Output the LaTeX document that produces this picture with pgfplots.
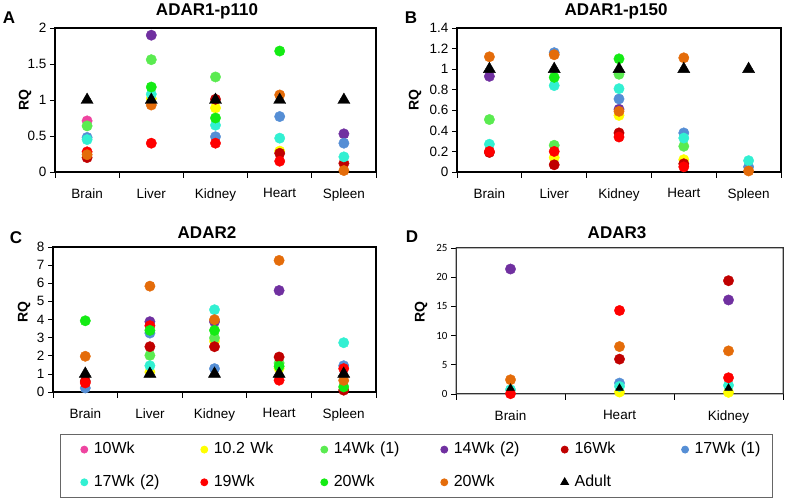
\documentclass[border=0pt]{standalone}
\usepackage{fontspec}
\setmainfont{Liberation Sans}
\newfontfamily\carlito{Carlito}
\usepackage{pgfplots}
\pgfplotsset{compat=1.18}

\definecolor{wk10}{RGB}{238,68,160}
\definecolor{wk102}{RGB}{255,255,0}
\definecolor{wk14a}{RGB}{90,235,80}
\definecolor{wk14b}{RGB}{112,48,160}
\definecolor{wk16}{RGB}{192,0,0}
\definecolor{wk17a}{RGB}{85,142,213}
\definecolor{wk17b}{RGB}{50,240,210}
\definecolor{wk19}{RGB}{255,0,0}
\definecolor{wk20g}{RGB}{20,235,20}
\definecolor{wk20o}{RGB}{228,108,10}

% frame drawn as a thin filled ring round the axis box
\newcommand{\ring}[2]{%
  \fill[#1, even odd rule]
    ([xshift=-#2,yshift=-#2]rel axis cs:0,0) rectangle ([xshift=#2,yshift=#2]rel axis cs:1,1)
    ([xshift=#2,yshift=#2]rel axis cs:0,0) rectangle ([xshift=-#2,yshift=-#2]rel axis cs:1,1);}

\pgfplotsset{
  panel/.style={
    scale only axis, clip=false, axis lines=box,
    tick align=outside, xtick pos=left, ytick pos=left,
    axis line style={black, line width=1.2bp},
    tick style={black, line width=0.7bp},
    major tick length=5bp, minor tick length=6bp,
    major x tick style={draw=none},
    xmin=0, xmax=5,
    xtick={0.5,1.5,2.5,3.5,4.5},
    xticklabels={Brain,Liver,Kidney,Heart,Spleen},
    minor xtick={0,1,2,3,4,5},
    /pgf/number format/assume math mode=true,
    tick label style={font=\fontsize{13.5bp}{15bp}\selectfont},
    xticklabel style={yshift=-8bp},
  },
  dot/.style={only marks, mark=*, mark size=5.2bp, color=#1},
  adult/.style={only marks, mark=triangle*, mark size=7bp, color=black},
}
\newcommand{\ttlfont}{\bfseries\fontsize{17bp}{19bp}\selectfont}
\newcommand{\rqfont}{\bfseries\fontsize{14bp}{16bp}\selectfont}

\begin{document}
\begin{tikzpicture}
\path[use as bounding box] (0,0) rectangle (787bp,502bp);

% ---- A: ADAR1-p110
\begin{axis}[panel, name=pA, at={(55bp,330bp)}, anchor=south west,
  width=321bp, height=144bp, ymin=0, ymax=2, ytick={0,0.5,...,2}]
\ring{black}{0.6bp}
\addplot[dot=wk10] coordinates {(0.5,0.71)};
\addplot[dot=wk102] coordinates {(1.5,1.02) (2.5,0.89) (3.5,0.29)};
\addplot[dot=wk14a] coordinates {(0.5,0.64) (1.5,1.56) (2.5,1.32)};
\addplot[dot=wk14b] coordinates {(1.5,1.90) (4.5,0.53)};
\addplot[dot=wk16] coordinates {(0.5,0.20) (2.5,1.01) (3.5,0.26) (4.5,0.12)};
\addplot[dot=wk17a] coordinates {(0.5,0.48) (2.5,0.49) (3.5,0.77) (4.5,0.40)};
\addplot[dot=wk17b] coordinates {(0.5,0.45) (1.5,1.08) (2.5,0.65) (3.5,0.47) (4.5,0.21)};
\addplot[dot=wk19] coordinates {(0.5,0.28) (1.5,0.40) (2.5,0.40) (3.5,0.15)};
\addplot[dot=wk20g] coordinates {(1.5,1.18) (2.5,0.75) (3.5,1.68)};
\addplot[dot=wk20o] coordinates {(0.5,0.24) (1.5,0.93) (3.5,1.07) (4.5,0.02)};
\addplot[adult] coordinates {(0.5,1) (1.5,1) (2.5,1) (3.5,1) (4.5,1)};
\end{axis}

% ---- B: ADAR1-p150
\begin{axis}[panel, name=pB, at={(457bp,330bp)}, anchor=south west,
  width=324bp, height=144bp, ymin=0, ymax=1.4, ytick={0,0.2,...,1.4}]
\ring{black}{0.6bp}
\addplot[dot=wk102] coordinates {(1.5,0.14) (2.5,0.55) (3.5,0.12)};
\addplot[dot=wk14a] coordinates {(0.5,0.51) (1.5,0.26) (2.5,0.95) (3.5,0.25)};
\addplot[dot=wk14b] coordinates {(0.5,0.93) (2.5,0.61)};
\addplot[dot=wk16] coordinates {(0.5,0.19) (1.5,0.07) (2.5,0.38) (3.5,0.08)};
\addplot[dot=wk17a] coordinates {(1.5,1.16) (2.5,0.71) (3.5,0.38) (4.5,0.05)};
\addplot[dot=wk17b] coordinates {(0.5,0.27) (1.5,0.84) (2.5,0.81) (3.5,0.33) (4.5,0.11)};
\addplot[dot=wk19] coordinates {(0.5,0.20) (1.5,0.20) (2.5,0.34) (3.5,0.05)};
\addplot[dot=wk20g] coordinates {(1.5,0.92) (2.5,1.10)};
\addplot[dot=wk20o] coordinates {(0.5,1.12) (1.5,1.14) (2.5,0.59) (3.5,1.11) (4.5,0.01)};
\addplot[adult] coordinates {(0.5,1) (1.5,1) (2.5,1) (3.5,1) (4.5,1)};
\end{axis}

% ---- C: ADAR2
\begin{axis}[panel, name=pC, at={(53bp,110bp)}, anchor=south west,
  width=323bp, height=145bp, ymin=0, ymax=8, ytick={0,1,...,8}]
\ring{black}{0.6bp}
\addplot[dot=wk102] coordinates {(1.5,1.10) (2.5,2.80) (3.5,1.30)};
\addplot[dot=wk14a] coordinates {(1.5,2.02) (2.5,2.98) (3.5,1.60)};
\addplot[dot=wk14b] coordinates {(1.5,3.88) (2.5,3.88) (3.5,5.60)};
\addplot[dot=wk16] coordinates {(0.5,0.60) (1.5,2.50) (2.5,2.50) (3.5,1.93) (4.5,0.10)};
\addplot[dot=wk17a] coordinates {(0.5,0.22) (1.5,3.25) (2.5,1.29) (4.5,1.45)};
\addplot[dot=wk17b] coordinates {(1.5,1.45) (2.5,4.54) (4.5,2.72)};
\addplot[dot=wk19] coordinates {(0.5,0.50) (1.5,3.66) (3.5,0.65) (4.5,1.29)};
\addplot[dot=wk20g] coordinates {(0.5,3.93) (1.5,3.40) (2.5,3.40) (3.5,1.42) (4.5,0.28)};
\addplot[dot=wk20o] coordinates {(0.5,1.97) (1.5,5.84) (2.5,3.99) (3.5,7.26) (4.5,0.64)};
\addplot[adult] coordinates {(0.5,1) (1.5,1) (2.5,1) (3.5,1) (4.5,1)};
\end{axis}

% ---- D: ADAR3
\begin{axis}[panel, name=pD, at={(456bp,108bp)}, anchor=south west,
  width=327bp, height=146bp, ymin=0, ymax=25, ytick={0,5,...,25},
  xmax=3, xtick={0.5,1.5,2.5}, xticklabels={Brain,Heart,Kidney},
  minor xtick={0,1,2,3},
  axis line style={black!80, line width=1bp},
  yticklabel style={font=\carlito\fontsize{11bp}{13bp}\selectfont}]
\ring{black!80}{0.5bp}
\addplot[dot=wk102] coordinates {(1.5,0.33) (2.5,0.28)};
\addplot[dot=wk14b] coordinates {(0.5,21.4) (2.5,16.1)};
\addplot[dot=wk16] coordinates {(1.5,5.97) (2.5,19.4)};
\addplot[dot=wk17a] coordinates {(1.5,1.87)};
\addplot[dot=wk17b] coordinates {(0.5,0.73) (1.5,1.30) (2.5,1.48)};
\addplot[dot=wk19] coordinates {(0.5,0.05) (1.5,14.3) (2.5,2.78)};
\addplot[dot=wk20o] coordinates {(0.5,2.44) (1.5,8.12) (2.5,7.38)};
\addplot[adult, mark size=4.5bp] coordinates {(0.5,1) (1.5,1) (2.5,1)};
\end{axis}

% ---- legend
\begin{axis}[at={(60bp,4bp)}, anchor=south west, scale only axis,
  width=712bp, height=63bp, hide axis, xmin=0, xmax=1, ymin=0, ymax=1,
  legend columns=6, legend cell align=left,
  legend style={at={(0,0)}, anchor=south west, draw=black!60, line width=0.8bp,
    inner xsep=10.5bp, inner ysep=7.3bp, row sep=16.7bp,
    font=\fontsize{16bp}{18bp}\selectfont,
    nodes={inner xsep=0bp, inner ysep=0bp, text width=67bp,
           text height=12bp, text depth=4bp},
    /tikz/every odd column/.append style={column sep=6bp},
    /tikz/every even column/.append style={column sep=40bp},
    /tikz/column 12/.style={column sep=0bp}},
  legend image code/.code={\draw[#1] plot coordinates {(0bp,0bp)};}]
\addlegendimage{only marks, mark=*, mark size=3.5bp, color=wk10,
  legend image code/.code={\path (-13bp,0bp); \draw[##1] plot coordinates {(0bp,0bp)};}}
\addlegendentry{10Wk}
\addlegendimage{only marks, mark=*, mark size=3.5bp, color=wk102}
\addlegendentry{10.2~Wk}
\addlegendimage{only marks, mark=*, mark size=3.5bp, color=wk14a}
\addlegendentry{14Wk~(1)}
\addlegendimage{only marks, mark=*, mark size=3.5bp, color=wk14b}
\addlegendentry{14Wk~(2)}
\addlegendimage{only marks, mark=*, mark size=3.5bp, color=wk16}
\addlegendentry{16Wk}
\addlegendimage{only marks, mark=*, mark size=3.5bp, color=wk17a}
\addlegendentry{17Wk~(1)}
\addlegendimage{only marks, mark=*, mark size=3.5bp, color=wk17b}
\addlegendentry{17Wk~(2)}
\addlegendimage{only marks, mark=*, mark size=3.5bp, color=wk19}
\addlegendentry{19Wk}
\addlegendimage{only marks, mark=*, mark size=3.5bp, color=wk20g}
\addlegendentry{20Wk}
\addlegendimage{only marks, mark=*, mark size=3.5bp, color=wk20o}
\addlegendentry{20Wk}
\addlegendimage{only marks, mark=triangle*, mark size=4.5bp, color=black}
\addlegendentry{Adult}
\end{axis}

% ---- titles, panel letters, axis labels
\node[font=\ttlfont] at (207bp,491bp) {ADAR1-p110};
\node[font=\ttlfont] at (616bp,491bp) {ADAR1-p150};
\node[font=\ttlfont] at (207bp,269bp) {ADAR2};
\node[font=\ttlfont] at (617bp,269bp) {ADAR3};
\node[font=\ttlfont] at (9bp,484bp) {A};
\node[font=\ttlfont] at (411bp,484bp) {B};
\node[font=\ttlfont] at (16bp,264bp) {C};
\node[font=\ttlfont] at (412bp,265bp) {D};
\node[font=\rqfont, rotate=90] at (25bp,402bp) {RQ};
\node[font=\rqfont, rotate=90] at (415bp,402bp) {RQ};
\node[font=\rqfont, rotate=90] at (24bp,190bp) {RQ};
\node[font=\rqfont, rotate=90] at (421bp,190bp) {RQ};
\end{tikzpicture}
\end{document}
